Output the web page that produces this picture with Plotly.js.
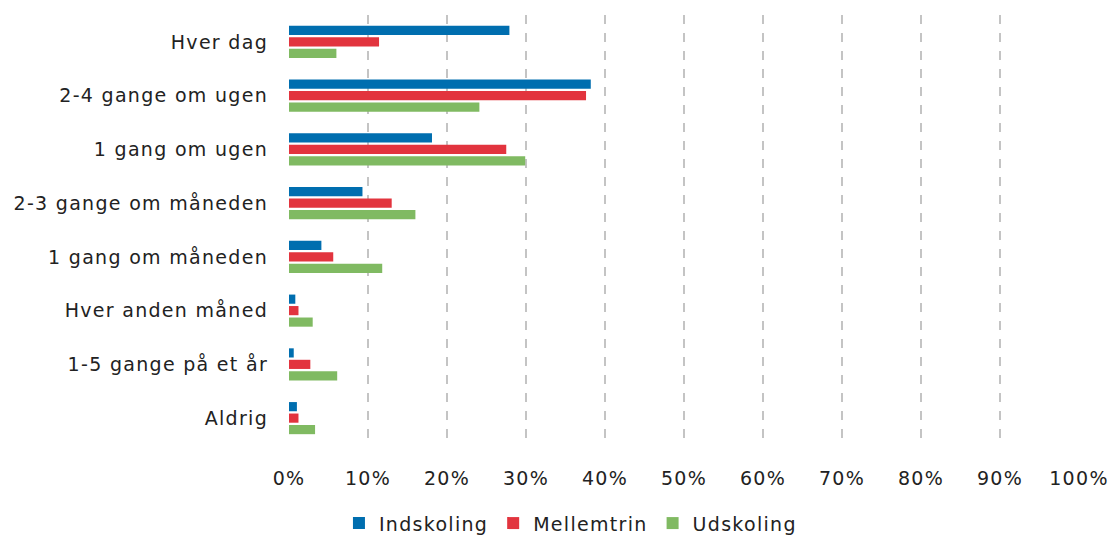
<!DOCTYPE html>
<html>
<head>
<meta charset="utf-8">
<script src="https://cdn.plot.ly/plotly-3.0.1.min.js"></script>
<style>
html,body{margin:0;padding:0;background:#fff;}
#chart{width:1112px;height:535px;}
svg text{letter-spacing:1.3px;}
</style>
</head>
<body>
<div id="chart"></div>
<script>
const categories = ["Hver dag", "2-4 gange om ugen", "1 gang om ugen", "2-3 gange om måneden", "1 gang om måneden", "Hver anden måned", "1-5 gange på et år", "Aldrig"];
const indskoling = [27.9, 38.2, 18.1, 9.3, 4.1, 0.8, 0.6, 1.0];
const mellemtrin = [11.4, 37.6, 27.5, 13.0, 5.6, 1.2, 2.7, 1.2];
const udskoling = [6.0, 24.1, 29.9, 16.0, 11.8, 3.0, 6.1, 3.3];
const seriesNames = ["Indskoling", "Mellemtrin", "Udskoling"];
const xTickVals = [0, 10, 20, 30, 40, 50, 60, 70, 80, 90, 100];
const xTickText = ["0%", "10%", "20%", "30%", "40%", "50%", "60%", "70%", "80%", "90%", "100%"];

const colors = ["#006EAF", "#E2343E", "#80BA62"];
const data = [indskoling, mellemtrin, udskoling].map((vals, i) => ({
  type: "bar",
  orientation: "h",
  name: seriesNames[i],
  y: categories,
  x: vals,
  marker: {color: colors[i]},
  hoverinfo: "none"
}));

const layout = {
  width: 1112, height: 535,
  margin: {l: 289, r: 33, t: 15, b: 90},
  paper_bgcolor: "#fff", plot_bgcolor: "#fff",
  font: {family: "DejaVu Sans, Verdana, sans-serif", size: 19, color: "#222"},
  barmode: "group",
  bargap: 0.36,
  bargroupgap: 0.2,
  xaxis: {
    range: [0, 100],
    tickvals: xTickVals,
    ticktext: xTickText,
    showgrid: true,
    gridcolor: "#C4C4C4",
    gridwidth: 2,
    griddash: "dash",
    zeroline: false,
    showline: false,
    ticks: "",
    ticklabelstandoff: 20,
    tickfont: {size: 19}
  },
  yaxis: {
    autorange: "reversed",
    showgrid: false,
    zeroline: false,
    showline: false,
    ticks: "",
    ticklabelstandoff: 20,
    tickfont: {size: 19}
  },
  showlegend: true,
  legend: {
    orientation: "h",
    xref: "container", yref: "container",
    x: 0.513, xanchor: "center",
    y: 0.022, yanchor: "middle",
    font: {size: 19},
    traceorder: "normal",
    itemwidth: 30
  }
};
Plotly.newPlot("chart", data, layout, {displayModeBar: false, staticPlot: true});
</script>
</body>
</html>
